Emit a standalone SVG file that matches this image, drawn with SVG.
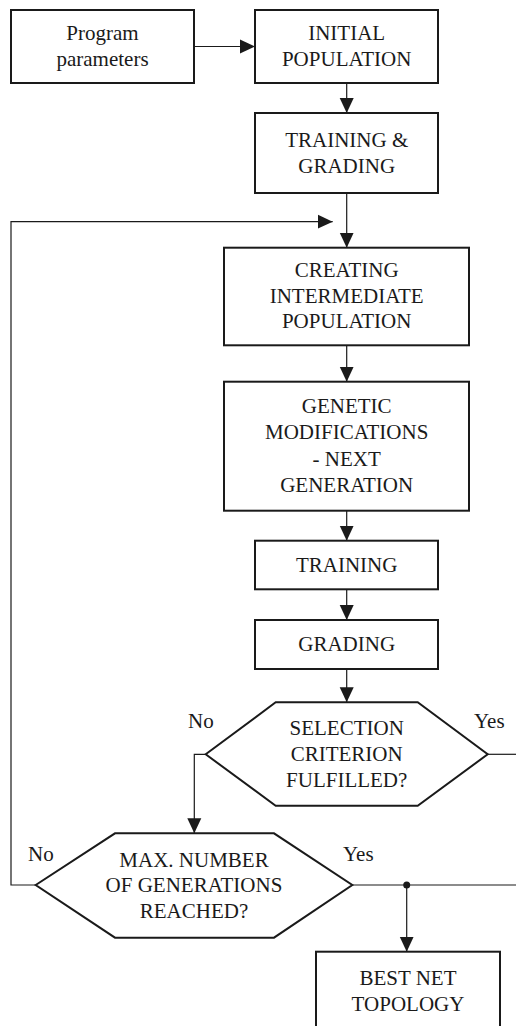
<svg xmlns="http://www.w3.org/2000/svg" width="516" height="1026" viewBox="0 0 516 1026">
  <style>
    .box { fill: #fff; stroke: #1a1a1a; stroke-width: 2; }
    .wire { fill: none; stroke: #1a1a1a; stroke-width: 1.2; }
    text { fill: #1a1a1a; font-size: 21px; }
    .c { text-anchor: middle; }
  </style>
  <defs>
    <marker id="arrow" markerUnits="userSpaceOnUse" markerWidth="16" markerHeight="16" viewBox="0 0 16 16" refX="15" refY="8" orient="auto">
      <path d="M0,1 L15,8 L0,15 Z" fill="#1a1a1a"/>
    </marker>
  </defs>
  <rect width="516" height="1026" fill="#fff"/>

  <g id="connectors">
    <line class="wire" x1="194" y1="46.5" x2="255" y2="46.5" marker-end="url(#arrow)"/>
    <line class="wire" x1="346.7" y1="83" x2="346.7" y2="113" marker-end="url(#arrow)"/>
    <line class="wire" x1="346.7" y1="193" x2="346.7" y2="247.7" marker-end="url(#arrow)"/>
    <polyline class="wire" points="35.7,885 11,885 11,221.7 332.7,221.7" marker-end="url(#arrow)"/>
    <line class="wire" x1="346.7" y1="345.3" x2="346.7" y2="381.7" marker-end="url(#arrow)"/>
    <line class="wire" x1="346.7" y1="510.7" x2="346.7" y2="540.7" marker-end="url(#arrow)"/>
    <line class="wire" x1="346.7" y1="589.3" x2="346.7" y2="620" marker-end="url(#arrow)"/>
    <line class="wire" x1="346.7" y1="669" x2="346.7" y2="702.3" marker-end="url(#arrow)"/>
    <line class="wire" x1="487.7" y1="754.3" x2="516" y2="754.3"/>
    <polyline class="wire" points="205.7,754.3 194.3,754.3 194.3,833.3" marker-end="url(#arrow)"/>
    <line class="wire" x1="352.3" y1="885" x2="516" y2="885"/>
    <circle cx="406.7" cy="885" r="3.5" fill="#1a1a1a"/>
    <line class="wire" x1="406.7" y1="885" x2="406.7" y2="951.7" marker-end="url(#arrow)"/>
  </g>

  <g id="program-parameters">
    <rect class="box" x="11" y="10" width="183" height="73"/>
    <text class="c" x="102.5" y="40" style="font-family:'Liberation Serif','Times New Roman',serif !important">Program</text>
    <text class="c" x="102.5" y="65.7" style="font-family:'Liberation Serif','Times New Roman',serif !important">parameters</text>
  </g>

  <g id="initial-population">
    <rect class="box" x="255" y="10" width="183" height="73"/>
    <text class="c" x="346.7" y="40" style="font-family:'Liberation Serif','Times New Roman',serif !important">INITIAL</text>
    <text class="c" x="346.7" y="65.7" style="font-family:'Liberation Serif','Times New Roman',serif !important">POPULATION</text>
  </g>

  <g id="training-grading">
    <rect class="box" x="255" y="113" width="183" height="80"/>
    <text class="c" x="346.7" y="146.7" style="font-family:'Liberation Serif','Times New Roman',serif !important">TRAINING &amp;</text>
    <text class="c" x="346.7" y="172.7" style="font-family:'Liberation Serif','Times New Roman',serif !important">GRADING</text>
  </g>

  <g id="intermediate-population">
    <rect class="box" x="224" y="247.7" width="245" height="97.6"/>
    <text class="c" x="346.7" y="276.7" style="font-family:'Liberation Serif','Times New Roman',serif !important">CREATING</text>
    <text class="c" x="346.7" y="302.7" style="font-family:'Liberation Serif','Times New Roman',serif !important">INTERMEDIATE</text>
    <text class="c" x="346.7" y="328.3" style="font-family:'Liberation Serif','Times New Roman',serif !important">POPULATION</text>
  </g>

  <g id="genetic-modifications">
    <rect class="box" x="224" y="381.7" width="245" height="129"/>
    <text class="c" x="346.7" y="413.3" style="font-family:'Liberation Serif','Times New Roman',serif !important">GENETIC</text>
    <text class="c" x="346.7" y="439.3" style="font-family:'Liberation Serif','Times New Roman',serif !important">MODIFICATIONS</text>
    <text class="c" x="346.7" y="465.7" style="font-family:'Liberation Serif','Times New Roman',serif !important">- NEXT</text>
    <text class="c" x="346.7" y="491.7" style="font-family:'Liberation Serif','Times New Roman',serif !important">GENERATION</text>
  </g>

  <g id="training">
    <rect class="box" x="255" y="540.7" width="183" height="48.6"/>
    <text class="c" x="346.7" y="571.7" style="font-family:'Liberation Serif','Times New Roman',serif !important">TRAINING</text>
  </g>

  <g id="grading">
    <rect class="box" x="255" y="620" width="183" height="49"/>
    <text class="c" x="346.7" y="651" style="font-family:'Liberation Serif','Times New Roman',serif !important">GRADING</text>
  </g>

  <g id="selection-criterion">
    <polygon class="box" points="205.7,754.3 275.7,702.3 417.7,702.3 487.7,754.3 417.7,805.7 275.7,805.7"/>
    <text class="c" x="346.7" y="735" style="font-family:'Liberation Serif','Times New Roman',serif !important">SELECTION</text>
    <text class="c" x="346.7" y="761" style="font-family:'Liberation Serif','Times New Roman',serif !important">CRITERION</text>
    <text class="c" x="346.7" y="786.7" style="font-family:'Liberation Serif','Times New Roman',serif !important">FULFILLED?</text>
    <text x="188" y="728.3" style="font-family:'Liberation Serif','Times New Roman',serif !important">No</text>
    <text x="474" y="728.3" style="font-family:'Liberation Serif','Times New Roman',serif !important">Yes</text>
  </g>

  <g id="max-generations">
    <polygon class="box" points="35.7,885 115,833.3 274,833.3 352.3,885 274,937.7 115,937.7"/>
    <text class="c" x="194" y="866.7" style="font-family:'Liberation Serif','Times New Roman',serif !important">MAX. NUMBER</text>
    <text class="c" x="194" y="892.3" style="font-family:'Liberation Serif','Times New Roman',serif !important">OF GENERATIONS</text>
    <text class="c" x="194" y="918.3" style="font-family:'Liberation Serif','Times New Roman',serif !important">REACHED?</text>
    <text x="28" y="860.7" style="font-family:'Liberation Serif','Times New Roman',serif !important">No</text>
    <text x="343" y="860.7" style="font-family:'Liberation Serif','Times New Roman',serif !important">Yes</text>
  </g>

  <g id="best-net-topology">
    <rect class="box" x="316" y="951.7" width="184" height="90"/>
    <text class="c" x="408" y="985" style="font-family:'Liberation Serif','Times New Roman',serif !important">BEST NET</text>
    <text class="c" x="408" y="1010.7" style="font-family:'Liberation Serif','Times New Roman',serif !important">TOPOLOGY</text>
  </g>
</svg>
